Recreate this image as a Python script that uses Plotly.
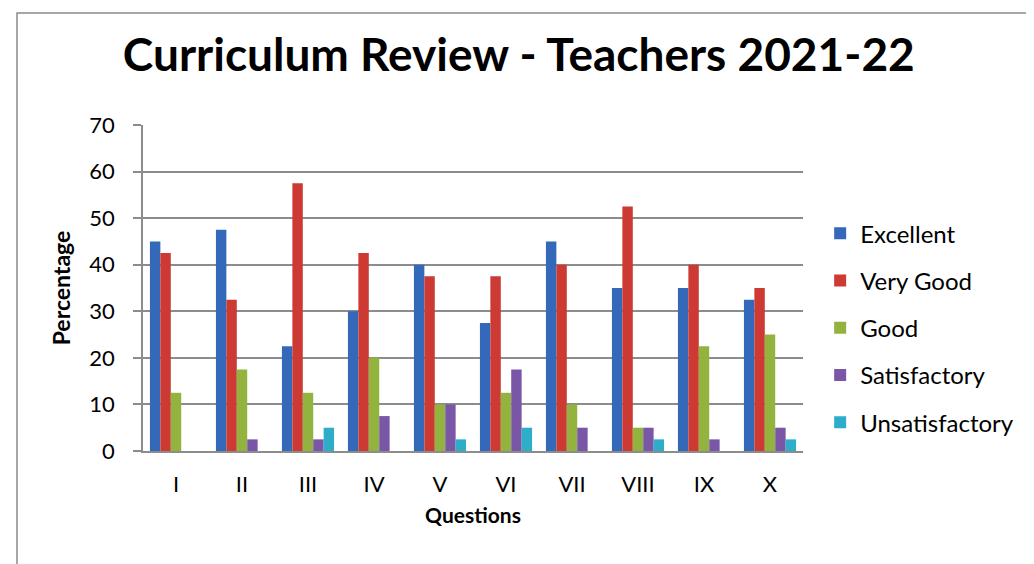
import plotly.graph_objects as go

questions = ["I", "II", "III", "IV", "V", "VI", "VII", "VIII", "IX", "X"]
excellent = [45, 47.5, 22.5, 30, 40, 27.5, 45, 35, 35, 32.5]
very_good = [42.5, 32.5, 57.5, 42.5, 37.5, 37.5, 40, 52.5, 40, 35]
good = [12.5, 17.5, 12.5, 20, 10, 12.5, 10, 5, 22.5, 25]
satisfactory = [0, 2.5, 2.5, 7.5, 10, 17.5, 5, 5, 2.5, 5]
unsatisfactory = [0, 0, 5, 0, 2.5, 5, 0, 2.5, 0, 2.5]

series = [
    ("Excellent", excellent, "#3369b8"),
    ("Very Good", very_good, "#cd3a33"),
    ("Good", good, "#92b43f"),
    ("Satisfactory", satisfactory, "#7a57a6"),
    ("Unsatisfactory", unsatisfactory, "#2eadc9"),
]

fig = go.Figure()
for name, vals, col in series:
    fig.add_trace(go.Bar(
        x=questions, y=vals, name=name,
        marker=dict(color=col, line=dict(width=0)),
        legendgroup=name,
    ))

font_family = "Lato, Carlito, 'Open Sans', sans-serif"

fig.update_layout(
    width=1034, height=564,
    margin=dict(l=135, r=239, t=117, b=121),
    paper_bgcolor="white", plot_bgcolor="white",
    barmode="group", bargap=0.21, bargroupgap=0,
    font=dict(family=font_family, color="black", size=22),
    title=dict(text="<b>Curriculum Review - Teachers 2021-22</b>",
               x=0.494, xanchor="center", y=1 - 47/564, yanchor="middle",
               font=dict(size=46, family=font_family, color="black")),
    legend=dict(x=1.026, xanchor="left", y=0.378, yanchor="middle",
                font=dict(size=24), tracegroupgap=13, traceorder="grouped",
                bgcolor="rgba(0,0,0,0)"),
    showlegend=True,
)

fig.update_yaxes(
    range=[0, 70], dtick=10, tick0=0,
    showgrid=True, gridcolor="#8c8c8c", gridwidth=1.5,
    showline=True, linecolor="#8c8c8c", linewidth=1.5,
    ticks="outside", ticklen=8, tickcolor="#8c8c8c", tickwidth=1.5,
    ticklabelstandoff=14,
    tickfont=dict(size=22),
    zeroline=False,
    title=dict(text="<b>Percentage</b>", font=dict(size=23), standoff=12),
)
fig.update_xaxes(
    showline=True, linecolor="#8c8c8c", linewidth=1.5,
    ticks="", tickfont=dict(size=22), ticklabelstandoff=13,
    title=dict(text="<b>Questions</b>", font=dict(size=21), standoff=12),
)

# outer chart border (only top and left edges visible in the frame)
fig.add_shape(type="rect", xref="paper", yref="paper",
              x0=(9 - 135) / 660, x1=(1045 - 135) / 660,
              y0=(443 - 575) / 326, y1=(443 - 5) / 326,
              line=dict(color="#8a8a8a", width=1.5), fillcolor="rgba(0,0,0,0)",
              layer="below")

fig.write_html("out.html")
